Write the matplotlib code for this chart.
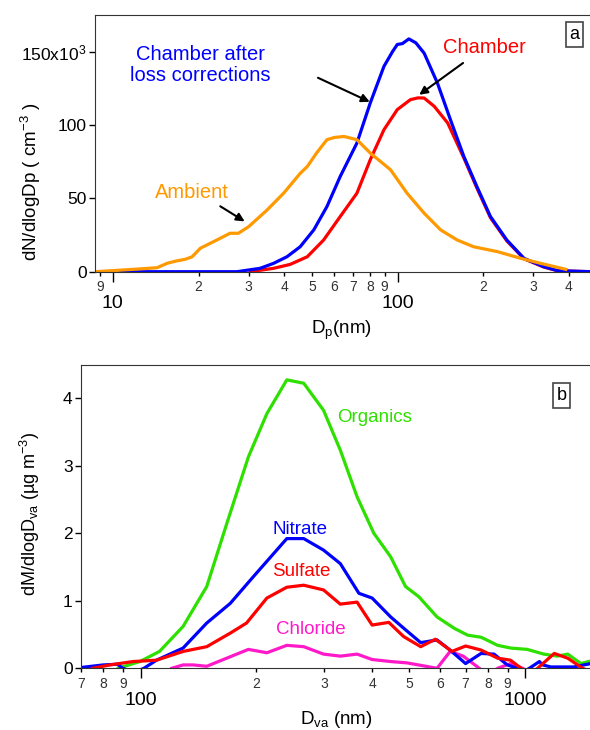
import matplotlib
matplotlib.use("Agg")
from matplotlib import pyplot as plt
from matplotlib.ticker import FixedLocator, FixedFormatter

plt.rcParams['font.family'] = ['Liberation Sans', 'DejaVu Sans']
plt.rcParams['mathtext.fontset'] = 'custom'
plt.rcParams['mathtext.rm'] = 'Liberation Sans'
plt.rcParams['mathtext.it'] = 'Liberation Sans:italic'

# (a) number size distributions, dN/dlogDp in 10^3 cm^-3
amb_d = [8.66, 11.8, 14.3, 15.5, 16.7, 18, 19, 20.3, 23.2, 25.8, 27.6, 30, 34.8, 39.8,
         45.5, 48.2, 52, 56.5, 60, 64.8, 72, 80.2, 94.5, 108, 124, 141.7, 162, 185,
         224, 271, 318, 390]
amb_n = [0, 1.6, 2.7, 5.7, 7.3, 8.5, 10.2, 16, 21.6, 26.2, 26.2, 30.7, 42, 53.5,
         67, 71.7, 81, 90, 91.5, 92.2, 90, 80.9, 69.5, 53.5, 39.9, 28.5, 21.6, 17,
         13.7, 9.1, 5.7, 1.6]

cor_d = [10.6, 27.3, 32.9, 36.7, 40.9, 45.5, 50.8, 56.5, 62.9, 72, 80.2, 89.6, 96,
         99.8, 104, 109.6, 116, 124, 138, 153.4, 171, 190, 212, 242, 278, 326, 365, 478]
cor_n = [0, 0, 2.3, 5.7, 10.2, 17, 28.5, 44.4, 64.9, 87.7, 115, 140, 150,
         154.9, 155.5, 158.7, 156, 149, 128.7, 103.6, 78.5, 58, 37.6, 21.6, 9.1, 3.4, 0.7, 0]

ch_d = [30.4, 36.7, 42, 48.2, 55, 62.9, 72, 80.2, 89.6, 99.8, 111, 118, 124, 134.6,
        150, 171, 190, 212, 242, 278, 326, 365, 478]
ch_n = [0, 2.3, 5.0, 10.2, 21.6, 37.6, 53.5, 76.3, 96.8, 110.5, 117.3, 118.5, 118.4, 112.7,
        101.4, 77.5, 57, 36.8, 21, 8.8, 3.2, 0.6, 0]

# (b) AMS mass distributions, dM/dlogDva in ug m^-3
org_d = [85, 87.4, 99.6, 112, 129, 148.6, 167.5, 190.7, 213, 240, 265.6, 299, 330.6,
         365.5, 404, 447, 488.6, 529, 590, 655, 709, 768, 848, 916, 1012, 1118, 1212,
         1290, 1396, 1483]
org_v = [-0.05, 0, 0.1, 0.25, 0.62, 1.21, 2.14, 3.13, 3.77, 4.27, 4.22, 3.82, 3.23,
         2.54, 2.0, 1.65, 1.21, 1.06, 0.76, 0.59, 0.49, 0.46, 0.34, 0.30, 0.28, 0.21, 0.18,
         0.21, 0.07, 0.11]

nit_d = [69.5, 80, 87, 90, 95, 100, 102, 110, 129, 148.6, 171, 196.7, 240, 265.6, 299,
         330.6, 369.6, 400, 447, 488.6, 535, 590, 638, 700, 768, 830, 899, 954, 990,
         1025, 1089, 1110, 1166, 1340, 1420, 1483]
nit_v = [0.01, 0.05, 0.06, 0, -0.05, -0.02, 0, 0.12, 0.30, 0.67, 0.96, 1.36, 1.92, 1.92, 1.75,
         1.55, 1.11, 1.04, 0.76, 0.57, 0.38, 0.42, 0.27, 0.07, 0.22, 0.21, 0.05, 0, -0.05,
         0, 0.1, 0.05, 0.02, 0.02, 0.05, 0.07]

sul_d = [75, 83.2, 95.6, 110, 129, 148.6, 171, 188.6, 213, 240, 265.6, 299, 330.6,
         365.5, 400, 442, 483, 535, 584, 645, 700, 768, 848, 916, 976, 1020, 1077, 1190,
         1290, 1410, 1483]
sul_v = [0, 0.05, 0.1, 0.12, 0.25, 0.32, 0.52, 0.67, 1.04, 1.2, 1.23, 1.16, 0.95,
         0.98, 0.64, 0.68, 0.47, 0.32, 0.43, 0.25, 0.33, 0.27, 0.15, 0.12, 0, -0.1, 0, 0.22,
         0.15, 0, -0.05]

chl_d = [120.5, 129, 137, 148.6, 167.5, 190.7, 213, 240, 265.6, 299, 330.6, 365.5, 400,
         447, 493, 590, 638, 690, 760, 800, 848, 916, 985, 1020]
chl_v = [0, 0.05, 0.05, 0.03, 0.15, 0.28, 0.23, 0.34, 0.32, 0.21, 0.18, 0.21, 0.13,
         0.1, 0.08, 0, 0.25, 0.18, 0, -0.1, 0, 0.07, 0, -0.05]

ORANGE = '#ff9900'
BLUE = '#0000ff'
RED = '#ff0000'
GREEN = '#2ee000'
PINK = '#ff19c8'
W, H = 590, 730


def box(x0, y0, x1, y1):
    # pixel box (top-left origin) -> figure fraction
    return [x0 / W, 1 - y1 / H, (x1 - x0) / W, (y1 - y0) / H]


def log_axis(ax, major, minor, minor_lbl):
    ax.set_xscale('log')
    ax.xaxis.set_major_locator(FixedLocator(major))
    ax.xaxis.set_major_formatter(FixedFormatter([str(m) for m in major]))
    ax.xaxis.set_minor_locator(FixedLocator(minor))
    ax.xaxis.set_minor_formatter(FixedFormatter(minor_lbl))
    ax.tick_params(axis='x', which='major', length=7, width=1, labelsize=14, pad=10)
    ax.tick_params(axis='x', which='minor', length=3, width=1, labelsize=10, pad=3,
                   labelcolor='#333333')
    ax.tick_params(axis='y', which='major', length=4, width=1, labelsize=12.5, pad=2)
    ax.spines['right'].set_visible(False)
    for s in ('left', 'top', 'bottom'):
        ax.spines[s].set_color('#333333')


fig = plt.figure(figsize=(W / 100, H / 100), dpi=100)

# ---- panel a ----
ax1 = fig.add_axes(box(95, 15, 591, 271.7))
ax1.plot(ch_d, ch_n, color=RED, lw=2.3)
ax1.plot(cor_d, cor_n, color=BLUE, lw=2.3)
ax1.plot(amb_d, amb_n, color=ORANGE, lw=2.3)
ax1.set_xlim(8.66, 478)
ax1.set_ylim(0, 175)
log_axis(ax1, [10, 100],
         [9, 20, 30, 40, 50, 60, 70, 80, 90, 200, 300, 400],
         ['9', '2', '3', '4', '5', '6', '7', '8', '9', '2', '3', '4'])
ax1.yaxis.set_major_locator(FixedLocator([0, 50, 100, 150]))
ax1.yaxis.set_major_formatter(FixedFormatter(['0', '50', '100', '150x10$^{3}$']))

arw = dict(arrowstyle='-|>', color='black', lw=1.5, mutation_scale=12)
ax1.annotate('', xy=(29.6, 33.3), xytext=(23.4, 45.6), arrowprops=arw)
ax1.annotate('', xy=(81.5, 115), xytext=(51.5, 133), arrowprops=arw)
ax1.annotate('', xy=(117, 119.5), xytext=(173, 143.4), arrowprops=arw)
ax1.text(18.9, 53.8, 'Ambient', color=ORANGE, fontsize=14.5, ha='center', va='center')
ax1.text(20.3, 141, 'Chamber after\nloss corrections', color=BLUE, fontsize=14.5,
         ha='center', va='center', linespacing=1.15)
ax1.text(202, 152.8, 'Chamber', color=RED, fontsize=14.5, ha='center', va='center')
ax1.text(418, 161.7, 'a', fontsize=13, ha='center', va='center',
         bbox=dict(boxstyle='square,pad=0.2', fc='white', ec='#444444', lw=1.2))

fig.text(31 / W, 1 - 182 / H, 'dN/dlogDp ( cm$^{-3}$ )', rotation=90,
         ha='center', va='center', fontsize=13.5)
fig.text(341 / W, 1 - 330 / H, 'D$_{\\mathregular{p}}$(nm)', ha='center', va='center',
         fontsize=13.5)

# ---- panel b ----
ax2 = fig.add_axes(box(81, 365, 591, 668.3))
ax2.plot(org_d, org_v, color=GREEN, lw=2.3)
ax2.plot(chl_d, chl_v, color=PINK, lw=2.3)
ax2.plot(nit_d, nit_v, color=BLUE, lw=2.3)
ax2.plot(sul_d, sul_v, color=RED, lw=2.3)
ax2.set_xlim(70, 1483)
ax2.set_ylim(0, 4.49)
log_axis(ax2, [100, 1000],
         [70, 80, 90, 200, 300, 400, 500, 600, 700, 800, 900],
         ['7', '8', '9', '2', '3', '4', '5', '6', '7', '8', '9'])
ax2.yaxis.set_major_locator(FixedLocator([0, 1, 2, 3, 4]))

ax2.text(405, 3.72, 'Organics', color=GREEN, fontsize=13.5, ha='center', va='center')
ax2.text(260, 2.05, 'Nitrate', color=BLUE, fontsize=13.5, ha='center', va='center')
ax2.text(262, 1.43, 'Sulfate', color=RED, fontsize=13.5, ha='center', va='center')
ax2.text(277, 0.57, 'Chloride', color=PINK, fontsize=13.5, ha='center', va='center')
ax2.text(1242, 4.04, 'b', fontsize=13, ha='center', va='center',
         bbox=dict(boxstyle='square,pad=0.2', fc='white', ec='#444444', lw=1.2))

fig.text(30 / W, 1 - 514 / H, 'dM/dlogD$_{\\mathregular{va}}$ (\u00b5g m$^{-3}$)',
         rotation=90, ha='center', va='center', fontsize=13)
fig.text(336 / W, 1 - 720 / H, 'D$_{\\mathregular{va}}$ (nm)', ha='center', va='center',
         fontsize=13.5)

plt.savefig('out.png', dpi=100, facecolor='white')
